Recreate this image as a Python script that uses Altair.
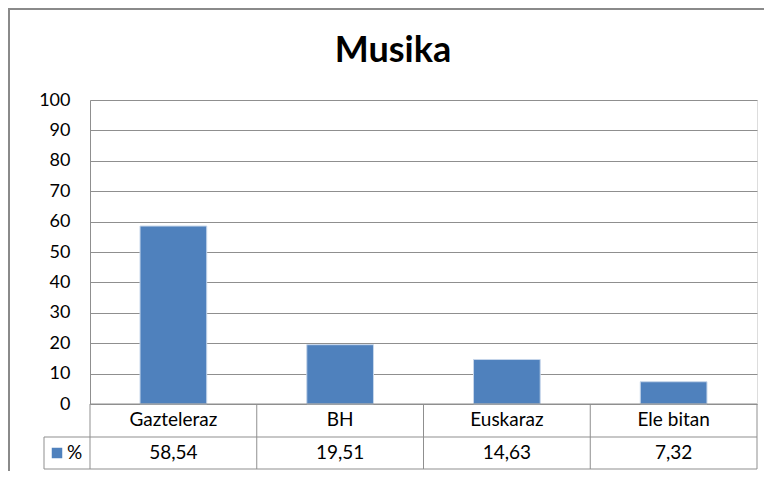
import altair as alt
import pandas as pd

categories = ["Gazteleraz", "BH", "Euskaraz", "Ele bitan"]
values = [58.54, 19.51, 14.63, 7.32]
series_name = "%"
title_text = "Musika"
y_ticks = [0, 10, 20, 30, 40, 50, 60, 70, 80, 90, 100]

df = pd.DataFrame({
    "cat": categories,
    "val": values,
    "label": [f"{v:.2f}".replace(".", ",") for v in values],
})

W, H = 667, 304
FONT = "Lato"
GRID = "#8f8f8f"
BLUE = "#4F81BD"

xs = alt.X("cat:N", sort=categories,
           scale=alt.Scale(paddingInner=0.6, paddingOuter=0.3),
           axis=None)

base = alt.Chart(df)

bars = base.mark_bar(color=BLUE, stroke="#c6d6ea", strokeWidth=1).encode(
    x=xs,
    y=alt.Y("val:Q", scale=alt.Scale(domain=[0, 100], nice=False),
            axis=alt.Axis(values=y_ticks, title=None, grid=True, gridColor=GRID,
                          tickSize=0, labelPadding=20, domainColor=GRID,
                          labelFont=FONT, labelFontSize=18, labelColor="#000000")),
)

cat_text = base.mark_text(font=FONT, fontSize=19, color="#000000", baseline="middle").encode(
    x=xs, y=alt.value(320), text="cat:N")
val_text = base.mark_text(font=FONT, fontSize=19, color="#000000", baseline="middle").encode(
    x=xs, y=alt.value(353), text="label:N")

# table / frame decoration lines (pixel layout)
step = W / 4
lines = pd.DataFrame([
    {"x": -46, "x2": W, "y": 337, "y2": 337},
    {"x": -46, "x2": W, "y": 369, "y2": 369},
    {"x": 0, "x2": W, "y": 304, "y2": 304},
] + [
    {"x": step * i, "x2": step * i, "y": 304, "y2": 369} for i in range(5)
] + [
    {"x": -46, "x2": -46, "y": 337, "y2": 369},
])
table_lines = alt.Chart(lines).mark_rule(color=GRID, strokeWidth=1).encode(
    x=alt.X("x:Q", scale=None), x2="x2:Q",
    y=alt.Y("y:Q", scale=None), y2="y2:Q")

frame = pd.DataFrame([
    {"x": -82, "x2": 690, "y": -91, "y2": -91},
    {"x": -81, "x2": -81, "y": -92, "y2": 372},
])
frame_lines = alt.Chart(frame).mark_rule(color="#8a8a8a", strokeWidth=2).encode(
    x=alt.X("x:Q", scale=None), x2="x2:Q",
    y=alt.Y("y:Q", scale=None), y2="y2:Q")

legend_sq = alt.Chart(pd.DataFrame({"s": [series_name]})).mark_square(
    color=BLUE, size=110, opacity=1).encode(x=alt.value(-33), y=alt.value(353))
legend_txt = alt.Chart(pd.DataFrame({"s": [series_name]})).mark_text(
    font=FONT, fontSize=19, color="#000000", align="left", baseline="middle").encode(
    x=alt.value(-23), y=alt.value(353), text="s:N")

title = alt.Chart(pd.DataFrame({"t": [title_text]})).mark_text(
    font=FONT, fontSize=36, fontWeight="bold", color="#000000",
    align="center", baseline="alphabetic").encode(
    x=alt.value(303), y=alt.value(-38), text="t:N")

chart = alt.layer(bars, table_lines, cat_text, val_text, legend_sq, legend_txt,
                  frame_lines, title).properties(
    width=W, height=H,
    autosize=alt.AutoSizeParams(type="none"),
    padding={"left": 82, "top": 92, "right": 7, "bottom": 67},
).configure_view(stroke=None).configure(background="white")

chart.save("out.html", embed_options={"renderer": "svg", "actions": False})
